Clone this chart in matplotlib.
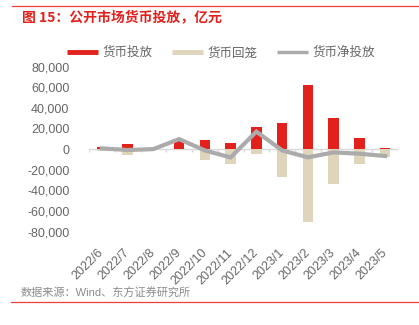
import numpy as np
import matplotlib
matplotlib.use('Agg')
import matplotlib.pyplot as plt
from matplotlib.lines import Line2D
from matplotlib.ticker import FuncFormatter

plt.rcParams['font.family'] = ['Liberation Sans', 'Noto Sans CJK SC', 'DejaVu Sans']

# 数据（亿元）
months = ['2022/6', '2022/7', '2022/8', '2022/9', '2022/10', '2022/11',
          '2022/12', '2023/1', '2023/2', '2023/3', '2023/4', '2023/5']
injection = [2200, 4800, 0, 10000, 9000, 6000, 21500, 25500, 62600, 30300, 10300, 1300]
withdrawal = [-1500, -5700, 0, -300, -10300, -14100, -4500, -26800, -70600, -33500, -14800, -8000]
net = [700, -900, 0, 9700, -1300, -8100, 17000, -1300, -8000, -3200, -4500, -6700]
yticks = [-80000, -60000, -40000, -20000, 0, 20000, 40000, 60000, 80000]

red = '#E2211C'
beige = '#DFD5BD'
grey = '#ABABAB'
txt = '#666666'

fig = plt.figure(figsize=(4.19, 3.25), dpi=100)
ax = fig.add_axes([89 / 419, 1 - 231.5 / 325, 309 / 419, 164.8 / 325])

x = np.arange(len(months))
ax.bar(x, withdrawal, width=0.41, color=beige, zorder=2)
ax.bar(x, injection, width=0.41, color=red, zorder=3)
ax.plot(x, net, color=grey, lw=3, zorder=4, solid_joinstyle='miter')

# 零轴和分隔刻度
ax.axhline(0, color='#D9D9D9', lw=1, zorder=1)
bounds = np.arange(len(months) + 1) - 0.5
ax.vlines(bounds, -2600, 0, color='#D9D9D9', lw=1, zorder=1)

ax.set_xlim(-0.5, len(months) - 0.5)
ax.set_ylim(-80000, 80000)
ax.set_yticks(yticks)
ax.yaxis.set_major_formatter(FuncFormatter(lambda v, p: f'{v:,.0f}'))
ax.set_xticks(x)
ax.set_xticklabels(months, rotation=45, ha='right', va='center', rotation_mode='anchor')
ax.tick_params(axis='y', length=0, pad=14, labelsize=9, labelcolor=txt)
ax.tick_params(axis='x', length=0, pad=14, labelsize=9, labelcolor=txt)
for s in ax.spines.values():
    s.set_visible(False)

handles = [Line2D([0], [0], color=red, lw=3.5, solid_capstyle='butt'),
           Line2D([0], [0], color=beige, lw=3.5, solid_capstyle='butt'),
           Line2D([0], [0], color=grey, lw=2.5, solid_capstyle='butt')]
fig.legend(handles, ['货币投放', '货币回笼', '货币净投放'], loc='center',
           bbox_to_anchor=(221 / 419, 1 - 53 / 325), ncol=3, frameon=False,
           fontsize=9, handlelength=2.5, handletextpad=0.4, columnspacing=1.5,
           labelcolor=txt)

fig.text(22 / 419, 1 - 17 / 325, '图 15：公开市场货币投放，亿元', color=red,
         fontsize=10, fontweight='bold', va='center', ha='left',
         family=['Noto Sans CJK SC', 'DejaVu Sans'])
fig.text(21 / 419, 1 - 293 / 325, '数据来源：Wind、东方证券研究所', color='#8C8C8C',
         fontsize=8, va='center', ha='left')

fig.add_artist(Line2D([12 / 419, 1], [1 - 6 / 325] * 2, color='#E8413C', lw=0.9))
fig.add_artist(Line2D([11 / 419, 1], [1 - 302 / 325] * 2, color='#E8413C', lw=0.9))

fig.savefig('out.png', dpi=100)
